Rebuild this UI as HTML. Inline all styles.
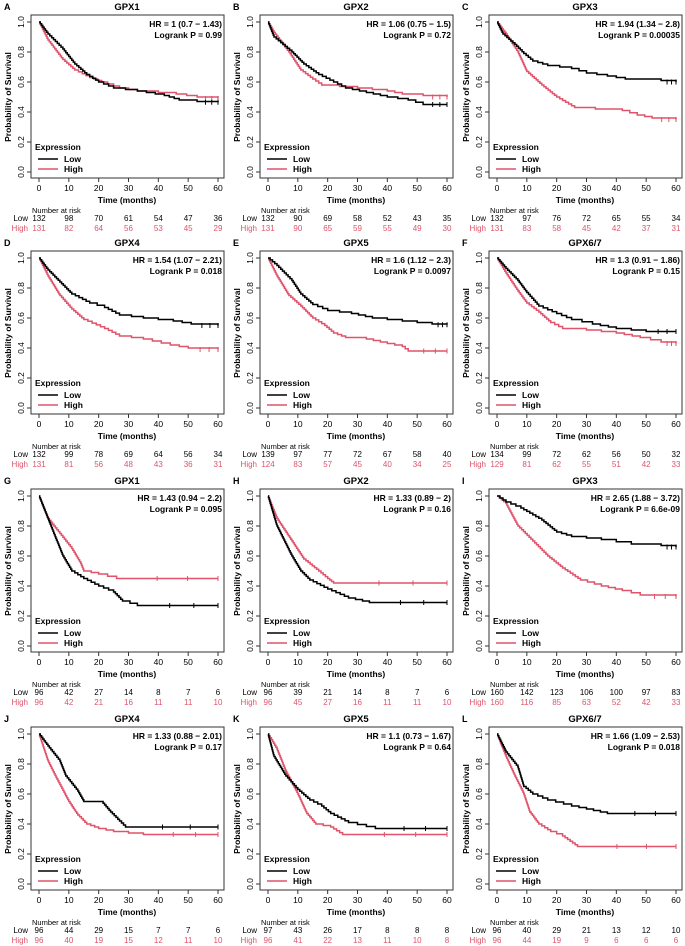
<!DOCTYPE html>
<html><head><meta charset="utf-8"><style>
body{margin:0;background:#fff}
svg{display:block;font-family:"Liberation Sans",Arial,sans-serif}
</style></head><body>
<svg id="fig" width="685" height="946" viewBox="0 0 685 946" xmlns="http://www.w3.org/2000/svg"></svg>
<script>
const panelLetters=["A","B","C","D","E","F","G","H","I","J","K","L"];
const panelTitles=["GPX1","GPX2","GPX3","GPX4","GPX5","GPX6/7","GPX1","GPX2","GPX3","GPX4","GPX5","GPX6/7"];
const hrTexts=["HR = 1 (0.7 − 1.43)","HR = 1.06 (0.75 − 1.5)","HR = 1.94 (1.34 − 2.8)","HR = 1.54 (1.07 − 2.21)","HR = 1.6 (1.12 − 2.3)","HR = 1.3 (0.91 − 1.86)","HR = 1.43 (0.94 − 2.2)","HR = 1.33 (0.89 − 2)","HR = 2.65 (1.88 − 3.72)","HR = 1.33 (0.88 − 2.01)","HR = 1.1 (0.73 − 1.67)","HR = 1.66 (1.09 − 2.53)"];
const pTexts=["Logrank P = 0.99","Logrank P = 0.72","Logrank P = 0.00035","Logrank P = 0.018","Logrank P = 0.0097","Logrank P = 0.15","Logrank P = 0.095","Logrank P = 0.16","Logrank P = 6.6e-09","Logrank P = 0.17","Logrank P = 0.64","Logrank P = 0.018"];
const riskLow=[[132,98,70,61,54,47,36],[132,90,69,58,52,43,35],[132,97,76,72,65,55,34],[132,99,78,69,64,56,34],[139,97,77,72,67,58,40],[134,99,72,62,56,50,32],[96,42,27,14,8,7,6],[96,39,21,14,8,7,6],[160,142,123,106,100,97,83],[96,44,29,15,7,7,6],[97,43,26,17,8,8,8],[96,40,29,21,13,12,10]];
const riskHigh=[[131,82,64,56,53,45,29],[131,90,65,59,55,49,30],[131,83,58,45,42,37,31],[131,81,56,48,43,36,31],[124,83,57,45,40,34,25],[129,81,62,55,51,42,33],[96,42,21,16,11,11,10],[96,45,27,16,11,11,10],[160,116,85,63,52,42,33],[96,40,19,15,12,11,10],[96,41,22,13,11,10,8],[96,44,19,9,6,6,6]];
const lowTimes=[
[0,3,8,12,16,20,25,33,42,47,53,60],[0,2,8,12,17,22,26,33,40,47,52,60],[0,2,6,9,12,17,25,30,37,43,55,60],
[0,3,7,11,17,22,27,35,45,51,60],[0,3,8,11,15,20,28,35,45,55,60],[0,3,7,10,14,20,25,32,40,50,60],
[0,4,8,11,15,20,25,28,33,60],[0,3,8,11,14,20,27,34,60],[0,3,8,15,20,25,35,45,55,60],
[0,3,7,9,13,15,21,24,27,29,60],[0,2,6,10,14,18,21,27,36,60],[0,3,7,9,12,17,25,30,37,60]];
const lowSurv=[
[1,0.92,0.82,0.72,0.65,0.6,0.56,0.54,0.51,0.48,0.47,0.465],[1,0.9,0.8,0.72,0.65,0.6,0.56,0.53,0.5,0.48,0.45,0.45],[1,0.92,0.85,0.79,0.74,0.71,0.69,0.66,0.64,0.62,0.61,0.6],
[1,0.92,0.84,0.76,0.7,0.67,0.62,0.6,0.58,0.56,0.55],[1,0.95,0.85,0.76,0.69,0.65,0.63,0.6,0.58,0.56,0.555],[1,0.93,0.85,0.77,0.68,0.63,0.59,0.56,0.53,0.51,0.51],
[1,0.8,0.6,0.5,0.45,0.4,0.36,0.3,0.27,0.27],[1,0.8,0.6,0.5,0.44,0.38,0.32,0.29,0.29],[1,0.96,0.92,0.84,0.76,0.73,0.71,0.68,0.67,0.66],
[1,0.92,0.82,0.72,0.62,0.55,0.55,0.48,0.42,0.38,0.38],[1,0.85,0.72,0.63,0.56,0.52,0.47,0.41,0.37,0.37],[1,0.88,0.78,0.65,0.6,0.56,0.52,0.5,0.47,0.47]];
const highTimes=[
[0,3,8,12,17,21,27,33,40,46,53,60],[0,2,7,11,15,18,24,30,40,45,52,60],[0,3,7,10,15,20,26,33,42,47,52,60],
[0,3,7,11,15,22,27,35,44,50,60],[0,3,7,11,15,19,22,26,33,40,45,47,60],[0,3,7,10,14,18,22,30,40,48,55,60],
[0,3,7,11,14,15,20,26,60],[0,3,8,12,17,20,22,60],[0,3,7,12,17,22,28,35,42,48,60],
[0,3,6,10,13,16,20,25,35,60],[0,3,6,10,13,16,21,25,60],[0,3,6,9,11,14,18,22,27,60]];
const highSurv=[
[1,0.88,0.75,0.68,0.63,0.6,0.56,0.54,0.53,0.52,0.5,0.49],[1,0.93,0.8,0.68,0.62,0.58,0.57,0.56,0.54,0.52,0.51,0.5],[1,0.92,0.8,0.67,0.58,0.5,0.43,0.42,0.41,0.38,0.36,0.35],
[1,0.88,0.75,0.66,0.59,0.53,0.48,0.46,0.42,0.4,0.39],[1,0.88,0.75,0.68,0.6,0.55,0.5,0.47,0.46,0.43,0.41,0.38,0.38],[1,0.9,0.78,0.7,0.64,0.57,0.53,0.52,0.5,0.47,0.44,0.43],
[1,0.85,0.75,0.65,0.55,0.5,0.48,0.45,0.45],[1,0.85,0.7,0.58,0.5,0.45,0.42,0.42],[1,0.95,0.8,0.7,0.6,0.52,0.44,0.4,0.37,0.34,0.33],
[1,0.82,0.7,0.55,0.46,0.4,0.37,0.35,0.33,0.33],[1,0.9,0.75,0.6,0.47,0.4,0.38,0.33,0.33],[1,0.85,0.72,0.6,0.48,0.4,0.35,0.32,0.25,0.25]];
const xTicks=[0,10,20,30,40,50,60];
const yTicks=[0,0.2,0.4,0.6,0.8,1.0];
const RED="#df536b";
const svg=document.getElementById('fig');
const NS="http://www.w3.org/2000/svg";
function mk(tag,attrs,parent,text){const e=document.createElementNS(NS,tag);for(const k in attrs)e.setAttribute(k,attrs[k]);if(text!==undefined)e.textContent=text;(parent||svg).appendChild(e);return e;}
const colOff=[0,229,458],rowOff=[0,236,474,712];
for(let i=0;i<12;i++){
  const ox=colOff[i%3],oy=rowOff[Math.floor(i/3)];
  const g=mk('g',{transform:`translate(${ox},${oy})`});
  
  
  const xs=t=>39+t*(218-39)/60, ys=s=>172-s*150;
  const L=mk('text',{x:4,y:10,'font-size':9,'font-weight':'bold'},g,panelLetters[i]);
  
  const T=mk('text',{x:127,y:10,'font-size':9.5,'font-weight':'bold','text-anchor':'middle'},g,panelTitles[i]);
  
  const box=mk('rect',{x:31,y:15,width:193,height:163,fill:'none',stroke:'#333','stroke-width':1},g);
  
  yTicks.forEach(v=>{
    mk('line',{x1:27,x2:31,y1:ys(v),y2:ys(v),stroke:'#333'},g);
    const t=mk('text',{x:24,y:ys(v),'font-size':8.5,'text-anchor':'middle',transform:`rotate(-90 24 ${ys(v)})`},g,v.toFixed(1));
    
  });
  xTicks.forEach(v=>{
    mk('line',{x1:xs(v),x2:xs(v),y1:178,y2:182,stroke:'#333'},g);
    const t=mk('text',{x:xs(v),y:191,'font-size':8.5,'text-anchor':'middle'},g,v);
    
  });
  const yl=mk('text',{x:11,y:97,'font-size':8.5,'font-weight':'bold','text-anchor':'middle',transform:'rotate(-90 11 97)'},g,'Probability of Survival');
  
  const xl=mk('text',{x:127,y:203,'font-size':8.5,'font-weight':'bold','text-anchor':'middle'},g,'Time (months)');
  
  const hr=mk('text',{x:222,y:27,'font-size':8.5,'font-weight':'bold','text-anchor':'end'},g,hrTexts[i]);
  
  const pv=mk('text',{x:222,y:38,'font-size':8.5,'font-weight':'bold','text-anchor':'end'},g,pTexts[i]);
  
  function curve(times,surv,color,name){
    // KM-style rendering: each segment's drop is drawn as a fine staircase
    let d=`M${xs(times[0])},${ys(surv[0])}`;
    for(let k=1;k<times.length;k++){
      const t0=times[k-1],t1=times[k],s0=surv[k-1],s1=surv[k];
      const n=Math.max(1,Math.round((s0-s1)/0.012));
      for(let j=1;j<=n;j++){
        const tt=t0+(t1-t0)*j/n, ss=s0+(s1-s0)*j/n;
        d+=` H${xs(tt).toFixed(1)} V${ys(ss).toFixed(1)}`;
      }
    }
    const p=mk('path',{d:d,fill:'none',stroke:color,'stroke-width':1.5},g);
    
    const n=times.length;
    [times[n-2]+(times[n-1]-times[n-2])*0.4,times[n-2]+(times[n-1]-times[n-2])*0.7,times[n-1]].forEach(t=>{
      const c=mk('line',{x1:xs(t),x2:xs(t),y1:ys(surv[n-1])-2.5,y2:ys(surv[n-1])+2.5,stroke:color,'stroke-width':1},g);
      
    });
  }
  curve(highTimes[i],highSurv[i],RED,'high-expression-curve');
  curve(lowTimes[i],lowSurv[i],'#000','low-expression-curve');
  const le=mk('text',{x:35,y:150,'font-size':8.5,'font-weight':'bold'},g,'Expression');
  
  const l1=mk('line',{x1:38,x2:58,y1:159,y2:159,stroke:'#000','stroke-width':1.6},g);
  
  const t1=mk('text',{x:64,y:162,'font-size':8.5,'font-weight':'bold'},g,'Low');
  
  const l2=mk('line',{x1:38,x2:58,y1:169,y2:169,stroke:RED,'stroke-width':1.6},g);
  
  const t2=mk('text',{x:64,y:172,'font-size':8.5,'font-weight':'bold'},g,'High');
  
  const nr=mk('text',{x:32,y:213,'font-size':7.5},g,'Number at risk');
  
  const rl=mk('text',{x:28,y:221,'font-size':8,'text-anchor':'end'},g,'Low');
  
  const rh=mk('text',{x:28,y:231,'font-size':8,'text-anchor':'end',fill:RED},g,'High');
  
  xTicks.forEach((v,k)=>{
    const a=mk('text',{x:xs(v),y:221,'font-size':8,'text-anchor':'middle'},g,riskLow[i][k]);
    
    const b=mk('text',{x:xs(v),y:231,'font-size':8,'text-anchor':'middle',fill:RED},g,riskHigh[i][k]);
    
  });
}
</script>
</body></html>
